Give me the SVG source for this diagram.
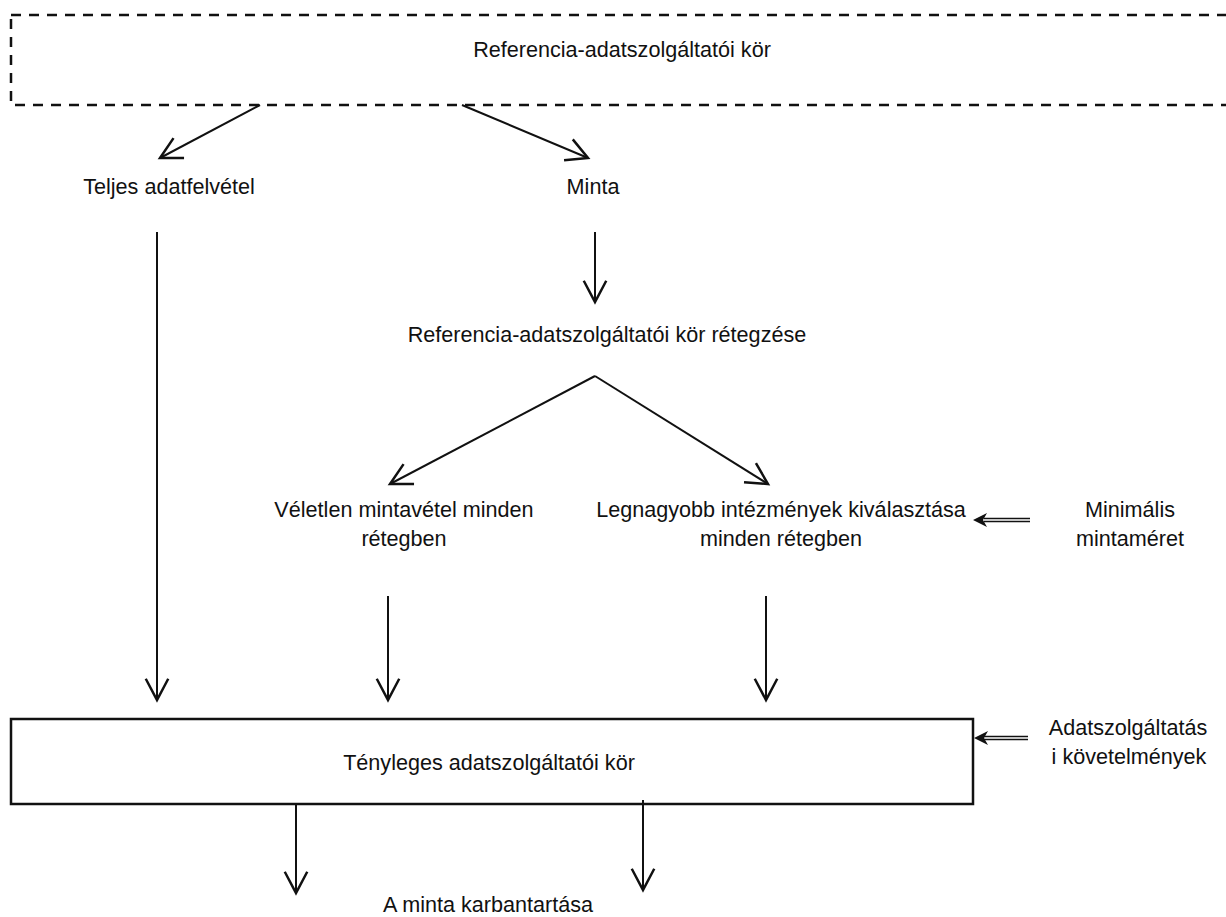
<svg xmlns="http://www.w3.org/2000/svg" width="1226" height="917" viewBox="0 0 1226 917">
<style>
text{font-family:"Liberation Sans",Arial,sans-serif;font-size:21.6px;fill:#111;text-anchor:middle}
.ln{stroke:#111;stroke-width:2;fill:none}
.dbl{stroke:#111;stroke-width:1.5;fill:none}
</style>
<defs>
<marker id="open" markerUnits="userSpaceOnUse" markerWidth="30" markerHeight="30" viewBox="-20 -12 24 24" refX="0" refY="0" orient="auto">
<path d="M-17,-9 L0,0 L-17,9" stroke="#111" stroke-width="2" fill="none"/>
</marker>
</defs>
<rect width="1226" height="917" fill="#fff"/>
<g id="node-ref">
<rect x="11" y="15" width="1240" height="90" fill="none" stroke="#111" stroke-width="2.5" stroke-dasharray="10 8"/>
<text x="622" y="57">Referencia-adatszolgáltatói kör</text>
</g>
<g id="node-teljes"><text x="169" y="194">Teljes adatfelvétel</text></g>
<g id="node-minta"><text x="593" y="194">Minta</text></g>
<g id="node-retegzes"><text x="607" y="342">Referencia-adatszolgáltatói kör rétegzése</text></g>
<g id="node-veletlen"><text x="404" y="517">Véletlen mintavétel minden</text><text x="404" y="546">rétegben</text></g>
<g id="node-legnagyobb"><text x="781" y="517">Legnagyobb intézmények kiválasztása</text><text x="781" y="546">minden rétegben</text></g>
<g id="node-minimalis"><text x="1130" y="517">Minimális</text><text x="1130" y="546">mintaméret</text></g>
<g id="node-tenyleges">
<rect x="11" y="719" width="962" height="85" fill="none" stroke="#111" stroke-width="2.5"/>
<text x="489" y="770">Tényleges adatszolgáltatói kör</text>
</g>
<g id="node-adatszolg"><text x="1128" y="735">Adatszolgáltatás</text><text x="1129" y="764">i követelmények</text></g>
<g id="node-karbantartas"><text x="488" y="912">A minta karbantartása</text></g>
<g id="connectors">
<line class="ln" x1="260" y1="105" x2="160" y2="158" marker-end="url(#open)"/>
<line class="ln" x1="462" y1="105" x2="588" y2="158" marker-end="url(#open)"/>
<line class="ln" x1="157" y1="232" x2="157" y2="700" marker-end="url(#open)"/>
<line class="ln" x1="595" y1="232" x2="595" y2="302" marker-end="url(#open)"/>
<line class="ln" x1="595" y1="376" x2="390" y2="484" marker-end="url(#open)"/>
<line class="ln" x1="595" y1="376" x2="768" y2="484" marker-end="url(#open)"/>
<line class="ln" x1="388" y1="596" x2="388" y2="700" marker-end="url(#open)"/>
<line class="ln" x1="766" y1="596" x2="766" y2="700" marker-end="url(#open)"/>
<line class="ln" x1="296" y1="804" x2="296" y2="893" marker-end="url(#open)"/>
<line class="ln" x1="643" y1="800" x2="643" y2="890" marker-end="url(#open)"/>
<line class="dbl" x1="1030" y1="518.5" x2="984" y2="518.5"/>
<line class="dbl" x1="1030" y1="521.5" x2="984" y2="521.5"/>
<path d="M973,520 L987,513 L983,520 L987,527 Z" fill="#111"/>
<line class="dbl" x1="1028" y1="736.5" x2="984" y2="736.5"/>
<line class="dbl" x1="1028" y1="739.5" x2="984" y2="739.5"/>
<path d="M974,738 L988,731 L984,738 L988,745 Z" fill="#111"/>
</g>
</svg>
